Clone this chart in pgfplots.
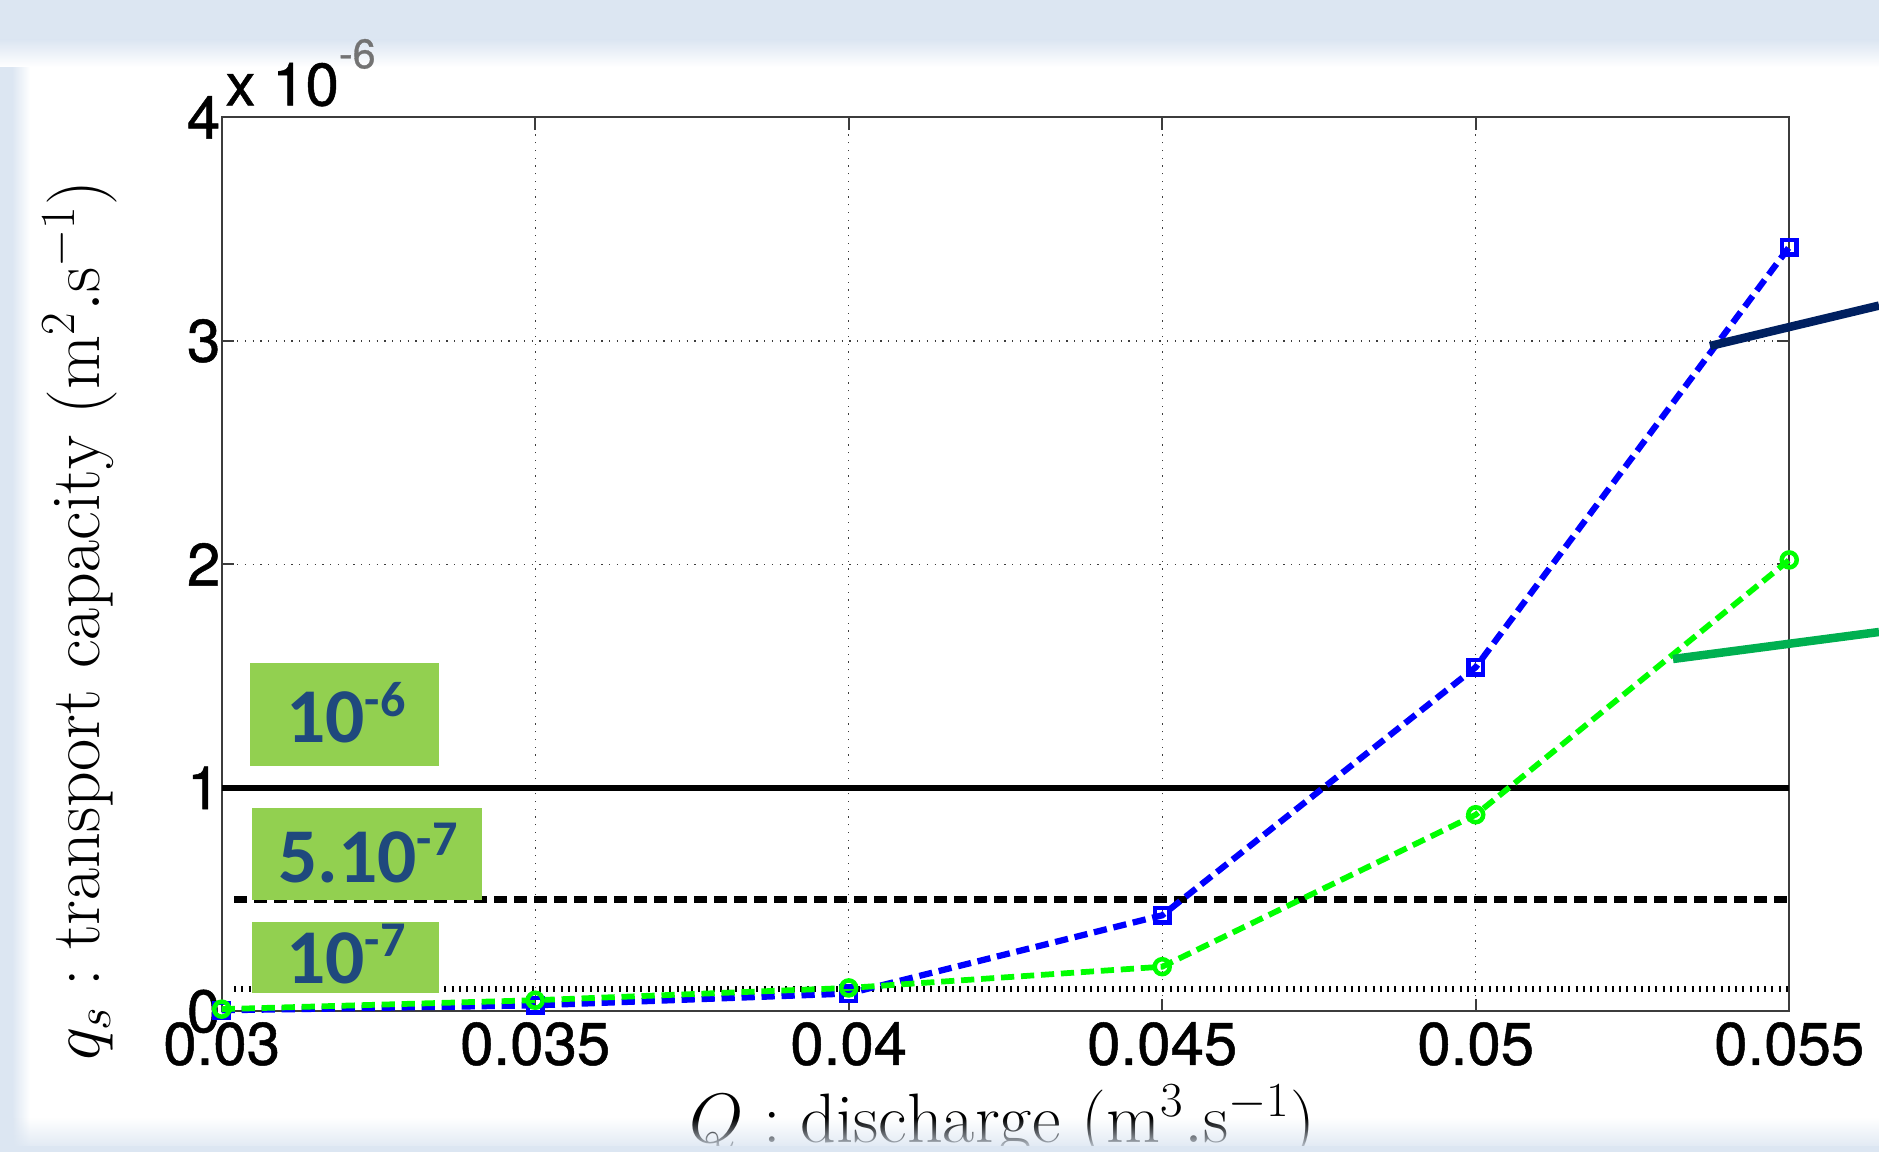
\RequirePackage{fix-cm}
\documentclass[border=0pt]{standalone}
\usepackage{fontspec}
\usepackage{pgfplots}
\pgfplotsset{compat=1.18}
\usetikzlibrary{fadings}
\newfontfamily\helv[FakeBold=0.8]{TeX Gyre Heros}
\newfontfamily\calib{Carlito}
\definecolor{bgblue}{HTML}{DCE6F2}
\definecolor{boxgreen}{HTML}{92D050}
\definecolor{boxtext}{HTML}{1F497D}
\definecolor{navyline}{HTML}{002060}
\definecolor{annogreen}{HTML}{00B050}
\definecolor{axgray}{HTML}{3C3C3C}
\definecolor{pureblue}{RGB}{0,0,255}
\definecolor{puregreen}{RGB}{0,255,0}

\pgfplotstableread{
x      y
0.030  0.005
0.035  0.027
0.040  0.080
0.045  0.430
0.050  1.540
0.055  3.420
}\bluedata
\pgfplotstableread{
x      y
0.030  0.010
0.035  0.050
0.040  0.105
0.045  0.200
0.050  0.880
0.055  2.020
}\greendata

\begin{document}
\begin{tikzpicture}[x=0.4pt,y=0.4pt]
\useasboundingbox (0,0) rectangle (1879,1152);
\clip (0,0) rectangle (1879,1152);
% slide background
\fill[white] (0,0) rectangle (1879,1152);
\fill[bgblue] (0,0) rectangle (12,1152);
\shade[left color=bgblue, right color=white] (12,0) rectangle (30,1152);
\fill[bgblue] (0,1112) rectangle (1879,1152);
\shade[top color=bgblue, bottom color=white] (0,1085) rectangle (1879,1112);

\begin{axis}[
  at={(88.68pt,56.24pt)}, anchor=south west,
  scale only axis, width=627pt, height=357.6pt,
  xmin=0.03, xmax=0.055, ymin=0, ymax=4,
  clip=false,
  scaled x ticks=false, scaled y ticks=false,
  xtick={0.03,0.035,0.04,0.045,0.05,0.055},
  xticklabels={0.03,0.035,0.04,0.045,0.05,0.055},
  ytick={0,1,2,3,4},
  yticklabels={0,1,2,3,4},
  tick label style={font=\helv\fontsize{24}{25}\selectfont, text=black},
  yticklabel style={xshift=3pt},
  xticklabel style={yshift=-0.8pt},
  tick align=inside, major tick length=5pt,
  tick style={axgray, line width=0.8pt},
  axis line style={axgray, line width=0.8pt},
  grid=major,
  grid style={axgray, line width=0.5pt, dash pattern=on 0.5pt off 2.6pt},
  xlabel={$Q : \mathrm{discharge}\ (\mathrm{m}^3.\mathrm{s}^{-1})$},
  ylabel={$q_s : \mathrm{transport\ capacity}\ (\mathrm{m}^2.\mathrm{s}^{-1})$},
  xlabel style={at={(axis description cs:0.498,-0.124)}, anchor=center, font=\fontsize{28}{29}\selectfont},
  ylabel style={at={(axis description cs:-0.0905,0.437)}, anchor=center, font=\fontsize{28}{29}\selectfont},
]
% thresholds
\addplot[black, line width=2.6pt] coordinates {(0.03,1) (0.055,1)};
\addplot[black, line width=2.6pt, dash pattern=on 5.2pt off 2.8pt] coordinates {(0.0302,0.5) (0.055,0.5)};
\addplot[black, line width=2.6pt, dash pattern=on 0.8pt off 2.1pt] coordinates {(0.0302,0.1) (0.055,0.1)};
% series
\addplot[pureblue, line width=2.5pt, dash pattern=on 5.3pt off 2.7pt,
  mark=square, mark size=2.9pt, mark options={solid, line width=1.8pt}]
  table[x=x,y=y] {\bluedata};
\addplot[puregreen, line width=2.3pt, dash pattern=on 5.3pt off 2.7pt,
  mark=o, mark size=3.0pt, mark options={solid, line width=1.8pt}]
  table[x=x,y=y] {\greendata};
\end{axis}

% multiplier
\node[anchor=base west, inner sep=0pt] at (225,1046.5)
  {\helv\fontsize{24}{25}\selectfont x 10\raisebox{14.9pt}{\color{black!55}\fontsize{16.5}{17}\selectfont -6}};

% green labels
\fill[boxgreen] (250,386) rectangle (439,489);
\fill[boxgreen] (252,252) rectangle (482,344);
\fill[boxgreen] (252,159) rectangle (439,230);
\node[boxtext, inner sep=0pt, anchor=center] at (346,439.5)
  {\calib\bfseries\fontsize{31}{32}\selectfont 10\raisebox{10.5pt}{\fontsize{20}{20}\selectfont -6}};
\node[boxtext, inner sep=0pt, anchor=center] at (368,299)
  {\calib\bfseries\fontsize{31}{32}\selectfont 5.10\raisebox{10.5pt}{\fontsize{20}{20}\selectfont -7}};
\node[boxtext, inner sep=0pt, anchor=center] at (346,198)
  {\calib\bfseries\fontsize{31}{32}\selectfont 10\raisebox{10.5pt}{\fontsize{20}{20}\selectfont -7}};

% annotation pointers
\draw[navyline, line width=3.4pt] (1710,806) -- (1879,846.4);
\draw[annogreen, line width=3.4pt] (1673,493) -- (1879,520);

% bottom fade
\fill[bgblue, path fading=north] (0,0) rectangle (1879,34);
\fill[bgblue] (0,0) rectangle (1879,6);
\end{tikzpicture}
\end{document}
